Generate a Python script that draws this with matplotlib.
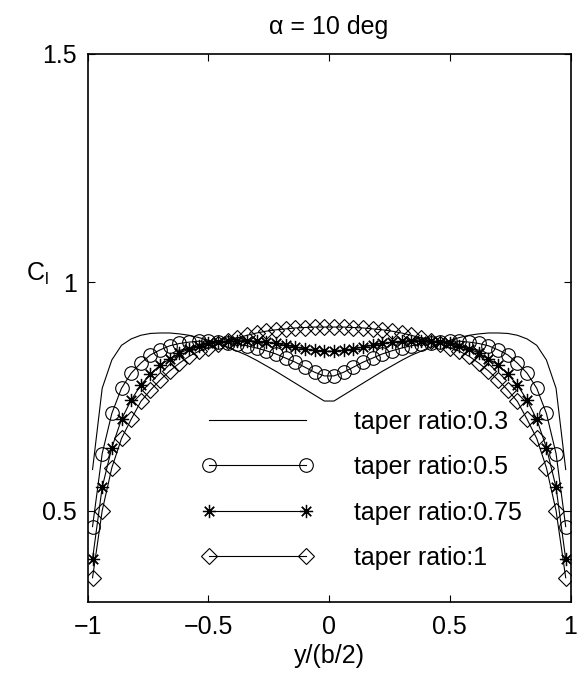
import numpy as np
import matplotlib
matplotlib.use('Agg')
import matplotlib.pyplot as plt

plt.rcParams['font.family'] = ['Liberation Sans', 'DejaVu Sans']
plt.rcParams['mathtext.fontset'] = 'custom'
plt.rcParams['mathtext.rm'] = 'Liberation Sans'

# spanwise stations y/(b/2)
span = np.round(np.linspace(-0.98, 0.98, 50), 2)

cl_taper_03 = [0.590, 0.768, 0.830, 0.862, 0.876, 0.884, 0.888, 0.889, 0.889, 0.887,
               0.884, 0.879, 0.873, 0.866, 0.858, 0.849, 0.840, 0.829, 0.817, 0.805,
               0.792, 0.779, 0.766, 0.753, 0.740,
               0.740, 0.753, 0.766, 0.779, 0.792, 0.805, 0.817, 0.829, 0.840, 0.849,
               0.858, 0.866, 0.873, 0.879, 0.884, 0.887, 0.889, 0.889, 0.888, 0.884,
               0.876, 0.862, 0.830, 0.768, 0.590]

cl_taper_05 = [0.465, 0.625, 0.713, 0.768, 0.801, 0.823, 0.841, 0.852, 0.861, 0.866,
               0.869, 0.871, 0.871, 0.870, 0.868, 0.865, 0.861, 0.856, 0.850, 0.843,
               0.834, 0.825, 0.814, 0.803, 0.795,
               0.795, 0.803, 0.814, 0.825, 0.834, 0.843, 0.850, 0.856, 0.861, 0.865,
               0.868, 0.870, 0.871, 0.871, 0.869, 0.866, 0.861, 0.852, 0.841, 0.823,
               0.801, 0.768, 0.713, 0.625, 0.465]

cl_taper_075 = [0.394, 0.551, 0.638, 0.700, 0.742, 0.775, 0.799, 0.819, 0.832, 0.845,
                0.854, 0.861, 0.866, 0.869, 0.871, 0.872, 0.872, 0.871, 0.869, 0.866,
                0.862, 0.858, 0.854, 0.851, 0.849,
                0.849, 0.851, 0.854, 0.858, 0.862, 0.866, 0.869, 0.871, 0.872, 0.872,
                0.871, 0.869, 0.866, 0.861, 0.854, 0.845, 0.832, 0.819, 0.799, 0.775,
                0.742, 0.700, 0.638, 0.551, 0.394]

cl_taper_1 = [0.353, 0.500, 0.594, 0.658, 0.700, 0.739, 0.764, 0.786, 0.806, 0.823,
              0.838, 0.849, 0.857, 0.865, 0.872, 0.878, 0.884, 0.889, 0.893, 0.896,
              0.898, 0.900, 0.901, 0.902, 0.902,
              0.902, 0.902, 0.901, 0.900, 0.898, 0.896, 0.893, 0.889, 0.884, 0.878,
              0.872, 0.865, 0.857, 0.849, 0.838, 0.823, 0.806, 0.786, 0.764, 0.739,
              0.700, 0.658, 0.594, 0.500, 0.353]

labels = ['taper ratio:0.3', 'taper ratio:0.5', 'taper ratio:0.75', 'taper ratio:1']

fs = 18

fig = plt.figure(figsize=(5.77, 6.76), dpi=100)
ax = fig.add_axes([0.152, 0.1095, 0.8368, 0.8107])

lw = 0.8
ax.plot(span, cl_taper_03, '-', color='k', lw=lw, label=labels[0])
ax.plot(span, cl_taper_05, '-', color='k', lw=lw, marker='o', ms=9.8,
        mfc='none', mec='k', mew=0.8, label=labels[1])
ax.plot(span, cl_taper_075, '-', color='k', lw=lw, marker=(8, 2, 0), ms=9.5,
        mec='k', mew=0.9, label=labels[2])
ax.plot(span, cl_taper_1, '-', color='k', lw=lw, marker='D', ms=7.9,
        mfc='none', mec='k', mew=0.8, label=labels[3])

ax.set_xlim(-1, 1)
ax.set_ylim(0.3, 1.5)
ax.set_xticks([-1, -0.5, 0, 0.5, 1])
ax.set_xticklabels(['\u22121', '\u22120.5', '0', '0.5', '1'])
ax.set_yticks([0.5, 1, 1.5])
ax.set_yticklabels(['0.5', '1', '1.5'])
ax.tick_params(direction='in', length=5, width=0.8, top=True, right=True,
               labelsize=fs)
ax.tick_params(axis='x', pad=9.5)
ax.tick_params(axis='y', pad=8)
for s in ax.spines.values():
    s.set_linewidth(1.2)

ax.set_title('\u03b1 = 10 deg', fontsize=fs, pad=14.5)
ax.set_xlabel('y/(b/2)', fontsize=fs, labelpad=3.5)
ax.set_ylabel(r'$\mathregular{C_l}$', fontsize=fs, rotation=0)
ax.yaxis.set_label_coords(-0.105, 0.575)

ax.legend(loc='upper left', bbox_to_anchor=(0.2355, 0.351), frameon=False,
          numpoints=2, handlelength=4.48, handletextpad=1.62, labelspacing=0.86,
          borderpad=0, borderaxespad=0, fontsize=fs)

fig.savefig('out.png', dpi=100)
